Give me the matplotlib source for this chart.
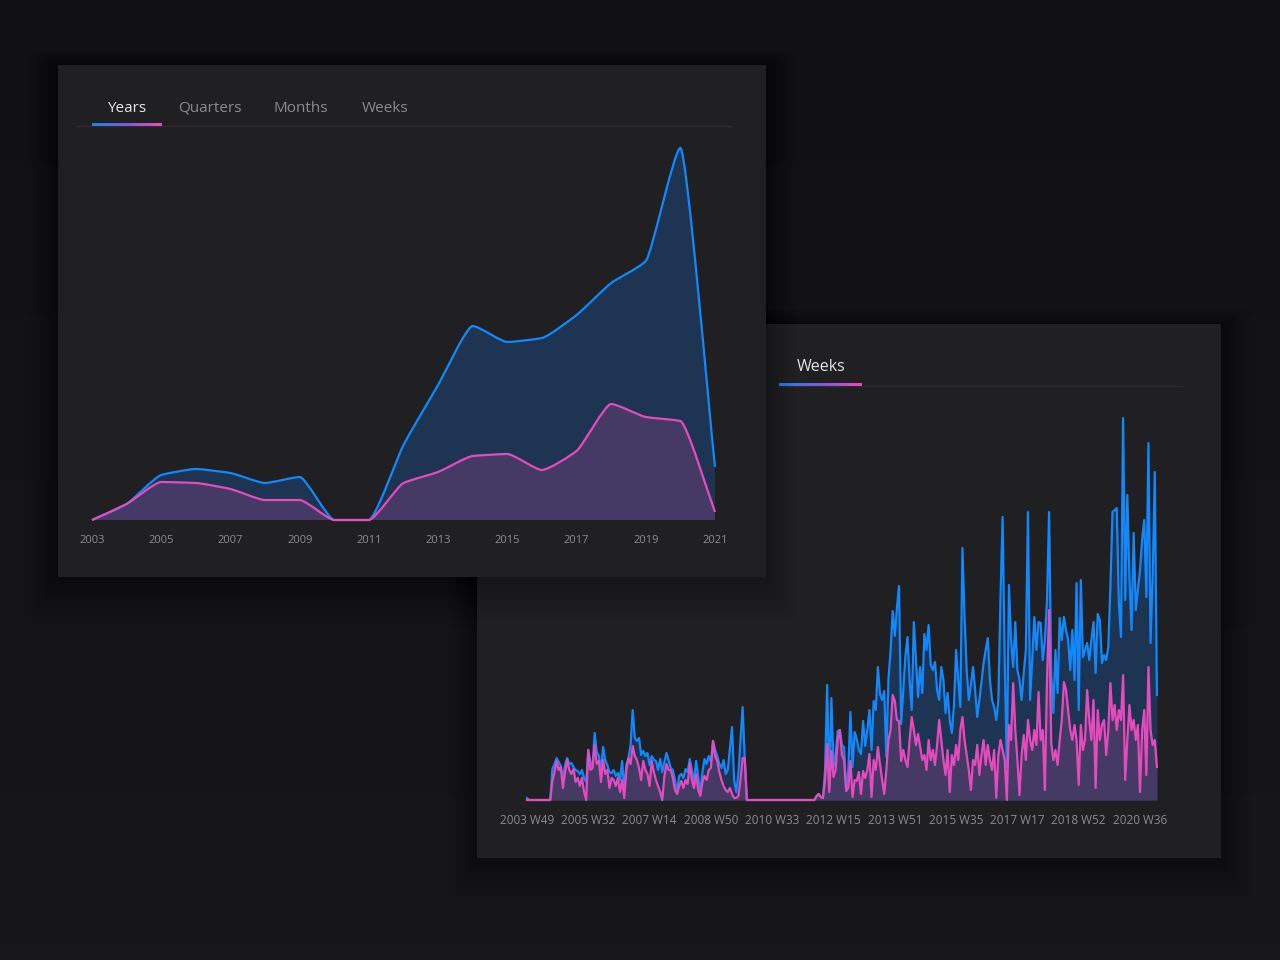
import numpy as np
import matplotlib
matplotlib.use("Agg")
import matplotlib.pyplot as plt
from matplotlib.path import Path
from matplotlib.patches import PathPatch, Rectangle
from matplotlib.colors import LinearSegmentedColormap

plt.rcParams['font.family'] = ['Open Sans', 'DejaVu Sans']

W, H = 1280, 960

# yearly view
years = list(range(2003, 2022))
year_total = [0, 16, 45, 51, 47, 37, 43, 0, 0, 75, 135, 194, 178, 182, 205, 237, 259, 372, 53]
year_part = [0, 16, 38, 37, 31, 20, 20, 0, 0, 37, 48, 64, 66, 50, 69, 116, 103, 99, 8]
year_ticks = years[::2]
main_tabs = ["Years", "Quarters", "Months", "Weeks"]

# weekly view, one value read every 3 weeks starting 2003 W49
week_step = 3
week_total = [
    2, 0, 0, 0, 0, 0, 0, 0, 0, 0, 0, 0,
    31, 36, 42, 38, 34, 20, 35, 42, 36, 37, 33, 30, 29, 26, 30, 22, 18, 50, 38, 34,
    67, 48, 44, 30, 53, 40, 35, 28, 27, 30, 24, 27, 20, 39, 10, 35, 42, 55, 90, 62,
    59, 62, 45, 49, 44, 47, 35, 44, 40, 39, 30, 41, 28, 38, 47, 40, 32, 30, 20, 8,
    24, 26, 22, 31, 28, 41, 30, 18, 39, 24, 6, 28, 41, 36, 44, 38, 59, 50, 44, 36,
    32, 40, 26, 30, 52, 73, 20, 8, 26, 60, 93, 42,
    0, 0, 0, 0, 0, 0, 0, 0, 0, 0, 0, 0, 0, 0, 0, 0, 0, 0, 0, 0, 0, 0, 0, 0, 0, 0,
    0, 0, 0, 0, 0, 0, 0,
    4, 6, 3, 2, 30,
    115, 12, 102, 33, 45, 69, 70, 55, 53, 9, 30, 88, 33, 68, 61, 50, 46, 79, 54, 70,
    90, 50, 99, 90, 133, 106, 100, 109, 43, 121, 149, 189, 164, 192, 214, 76, 110, 143, 163, 120,
    90, 178, 140, 103, 133, 107, 166, 150, 175, 135, 130, 138, 110, 100, 133, 120, 87, 107, 80, 67,
    95, 150, 120, 93, 252, 183, 130, 100, 115, 133, 110, 83, 100, 118, 137, 150, 162, 120, 100, 93,
    80, 100, 203, 283, 140, 33, 215, 160, 133, 178, 130, 120, 100, 127, 150, 288, 100, 140, 183, 150,
    178, 177, 140, 160, 200, 288, 127, 87, 150, 107, 182, 160, 183, 170, 160, 130, 170, 120, 217, 90,
    220, 143, 150, 157, 140, 160, 178, 127, 186, 180, 137, 145, 140, 153, 213, 288, 290, 292, 197, 163,
    382, 200, 305, 223, 170, 267, 190, 210, 230, 260, 280, 203, 357, 157, 223, 328, 105,
]
week_part = [
    0, 0, 0, 0, 0, 0, 0, 0, 0, 0, 0, 0,
    19, 28, 39, 30, 33, 12, 28, 40, 30, 26, 31, 18, 22, 14, 22, 8, 0, 50, 30, 32,
    55, 36, 39, 18, 40, 26, 30, 12, 22, 20, 14, 22, 8, 20, 2, 30, 42, 36, 54, 44,
    40, 32, 20, 39, 30, 26, 14, 39, 28, 20, 14, 8, 0, 24, 36, 30, 30, 22, 10, 6,
    14, 19, 12, 20, 16, 37, 20, 12, 26, 10, 4, 18, 24, 20, 30, 32, 59, 44, 39, 28,
    20, 14, 10, 8, 12, 6, 2, 2, 4, 20, 42, 42,
    0, 0, 0, 0, 0, 0, 0, 0, 0, 0, 0, 0, 0, 0, 0, 0, 0, 0, 0, 0, 0, 0, 0, 0, 0, 0,
    0, 0, 0, 0, 0, 0, 0,
    4, 6, 3, 2, 20,
    56, 8, 49, 23, 30, 60, 70, 45, 40, 9, 12, 39, 3, 20, 19, 28, 6, 29, 22, 30,
    46, 3, 40, 30, 53, 36, 20, 6, 30, 60, 70, 105, 99, 80, 79, 39, 50, 40, 33, 60,
    83, 70, 55, 66, 53, 40, 45, 30, 60, 40, 50, 35, 55, 80, 60, 40, 25, 50, 8, 45,
    35, 55, 40, 70, 83, 60, 45, 30, 10, 40, 35, 55, 25, 45, 60, 35, 55, 40, 30, 50,
    2, 45, 60, 50, 40, 0, 75, 60, 117, 70, 40, 5, 45, 65, 40, 80, 60, 50, 70, 55,
    108, 60, 70, 10, 120, 190, 57, 40, 50, 35, 60, 80, 118, 110, 90, 70, 60, 75, 60, 15,
    75, 50, 60, 110, 80, 60, 100, 12, 90, 60, 75, 80, 45, 70, 117, 80, 95, 70, 90, 80,
    125, 20, 60, 95, 70, 80, 60, 75, 8, 70, 90, 25, 133, 70, 55, 60, 33,
]
week_ticks = [0, 87, 174, 261, 348, 435, 522, 609, 696, 783, 870]
week_tick_labels = ["2003 W49", "2005 W32", "2007 W14", "2008 W50", "2010 W33", "2012 W15",
                    "2013 W51", "2015 W35", "2017 W17", "2018 W52", "2020 W36"]

BG = '#131315'
PANEL = '#202022'
BLUE = '#1288fb'
PINK = '#e64bbd'
BLUE_FILL = '#1e3453'
PINK_FILL = '#453a65'
TICK = '#8c8c92'
DIVIDER = '#2c2c2f'

grad = LinearSegmentedColormap.from_list('tab', ['#1f7ff0', '#7d5ad8', '#ea4cb8'])


def fig_rect(x, y, w, h):
    # pixel box (top-left origin) -> figure fraction
    return [x / W, 1 - (y + h) / H, w / W, h / H]


def pixel_axes(fig, z):
    ax = fig.add_axes([0, 0, 1, 1], zorder=z)
    ax.set_xlim(0, W)
    ax.set_ylim(H, 0)
    ax.set_autoscale_on(False)
    ax.axis('off')
    ax.patch.set_alpha(0)
    return ax


def draw_panel(ax, x, y, w, h):
    # soft shadow, then the card
    for s in range(2, 30, 3):
        ax.add_patch(Rectangle((x - s, y - s * 0.5), w + 2 * s, h + 2 * s, color='black', alpha=0.025, lw=0))
    ax.add_patch(Rectangle((x, y), w, h, color=PANEL, lw=0))


def draw_tab_line(ax, x0, x1, line_start, line_end, y):
    ax.plot([line_start, line_end], [y + 0.5, y + 0.5], color=DIVIDER, lw=1.0, solid_capstyle='butt', zorder=3)
    ax.imshow(np.linspace(0, 1, 256).reshape(1, -1), cmap=grad, aspect='auto', zorder=4,
              extent=(x0, x1, y + 1.5, y - 1.5), interpolation='bilinear')


def smooth_path(xs, ys, closed=False, k=0.18):
    xs = np.asarray(xs, float)
    ys = np.asarray(ys, float)
    d = np.diff(ys) / np.diff(xs)
    m = np.zeros(len(xs))
    m[0], m[-1] = d[0], d[-1]
    for i in range(1, len(xs) - 1):
        if d[i - 1] * d[i] > 0:
            m[i] = 2 * d[i - 1] * d[i] / (d[i - 1] + d[i])
    verts = [(xs[0], ys[0])]
    codes = [Path.MOVETO]
    for i in range(len(xs) - 1):
        h = xs[i + 1] - xs[i]
        verts += [(xs[i] + k * h, ys[i] + m[i] * k * h),
                  (xs[i + 1] - k * h, ys[i + 1] - m[i + 1] * k * h),
                  (xs[i + 1], ys[i + 1])]
        codes += [Path.CURVE4] * 3
    if closed:
        verts += [(xs[-1], 0), (xs[0], 0), (xs[0], ys[0])]
        codes += [Path.LINETO, Path.LINETO, Path.CLOSEPOLY]
    return Path(verts, codes)


fig = plt.figure(figsize=(W / 100, H / 100), dpi=100, facecolor=BG)

# background and back panel (weeks)
back = pixel_axes(fig, 0)
back.imshow(np.linspace(0, 1, 64).reshape(-1, 1), cmap=LinearSegmentedColormap.from_list('bg', ['#111113', '#17171a']),
            aspect='auto', extent=(0, W, H, 0), zorder=0)
draw_panel(back, 477, 324, 744, 534)
back.text(821, 371, "Weeks", color='#e4e4e6', fontsize=11.5, ha='center', va='baseline')
draw_tab_line(back, 779, 862, 779, 1183, 385)

# weekly chart
ax_w = fig.add_axes(fig_rect(527, 410, 633, 390), zorder=1)
ax_w.patch.set_alpha(0)
wx = np.arange(len(week_total)) * week_step
ax_w.fill_between(wx, week_total, color=BLUE_FILL, lw=0)
ax_w.fill_between(wx, week_part, color=PINK_FILL, lw=0)
ax_w.plot(wx, week_total, color=BLUE, lw=1.6, clip_on=False)
ax_w.plot(wx, week_part, color=PINK, lw=1.6, clip_on=False)
ax_w.set_xlim(0, 633 / 0.7046)
ax_w.set_ylim(0, 390)
ax_w.set_xticks(week_ticks)
ax_w.set_xticklabels(week_tick_labels)
ax_w.set_yticks([])
ax_w.tick_params(axis='x', length=0, pad=10, labelsize=8.5, labelcolor=TICK)
for sp in ax_w.spines.values():
    sp.set_visible(False)

# front panel (years)
front = pixel_axes(fig, 2)
draw_panel(front, 58, 65, 708, 512)
tab_x = [127, 210, 301, 385]
for i, (label, tx) in enumerate(zip(main_tabs, tab_x)):
    front.text(tx, 112, label, color='#e8e8ea' if i == 0 else '#8a8a92', fontsize=11,
               ha='center', va='baseline')
draw_tab_line(front, 92, 162, 76, 732, 125)

# yearly chart
ax_y = fig.add_axes(fig_rect(92, 140, 623, 380), zorder=3)
ax_y.patch.set_alpha(0)
ax_y.add_patch(PathPatch(smooth_path(years, year_total, closed=True), facecolor=BLUE_FILL, lw=0))
ax_y.add_patch(PathPatch(smooth_path(years, year_part, closed=True), facecolor=PINK_FILL, lw=0))
ax_y.add_patch(PathPatch(smooth_path(years, year_total), fill=False, edgecolor=BLUE, lw=1.6, clip_on=False))
ax_y.add_patch(PathPatch(smooth_path(years, year_part), fill=False, edgecolor=PINK, lw=1.6, clip_on=False))
ax_y.set_xlim(2003, 2021)
ax_y.set_ylim(0, 380)
ax_y.set_xticks(year_ticks)
ax_y.set_xticklabels([str(y) for y in year_ticks])
ax_y.set_yticks([])
ax_y.tick_params(axis='x', length=0, pad=11, labelsize=8, labelcolor=TICK)
for sp in ax_y.spines.values():
    sp.set_visible(False)

fig.savefig('out.png', dpi=100, facecolor=BG)
